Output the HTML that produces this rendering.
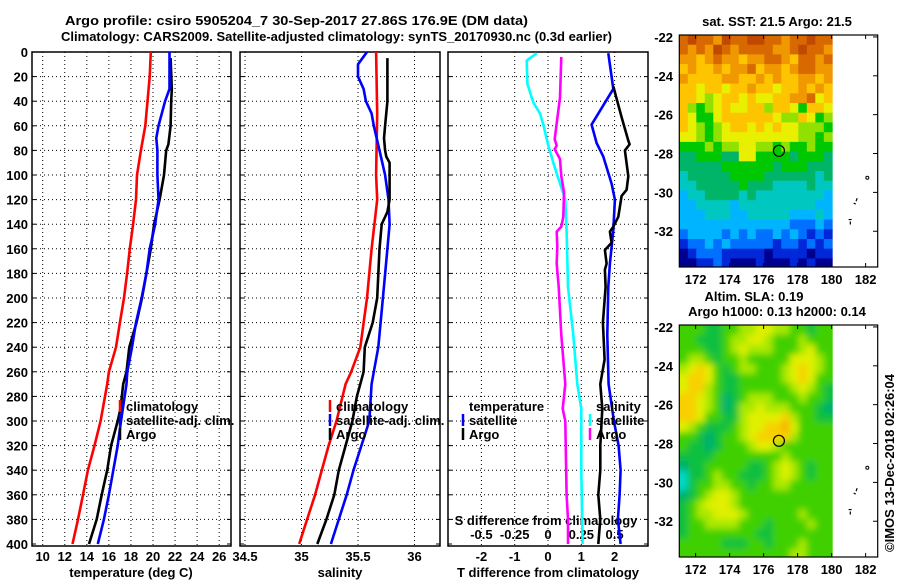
<!DOCTYPE html>
<html><head><meta charset="utf-8"><style>
body{margin:0;background:#fff}
svg{display:block}
text{font-family:"Liberation Sans",sans-serif;font-weight:bold;font-size:13px;fill:#000}
</style></head><body>
<svg id="c" width="900" height="580" viewBox="0 0 900 580">
<defs>
<clipPath id="cm1"><rect x="679.3" y="35" width="153.4" height="232"/></clipPath>
<clipPath id="cm2"><rect x="679.3" y="325" width="153.4" height="232"/></clipPath>
<filter id="bl"><feGaussianBlur stdDeviation="3.5"/></filter>
</defs>
<text x="65" y="25" font-size="14" textLength="463" lengthAdjust="spacingAndGlyphs">Argo profile: csiro 5905204_7 30-Sep-2017 27.86S 176.9E (DM data)</text>
<text x="61" y="41" font-size="14" textLength="551" lengthAdjust="spacingAndGlyphs">Climatology: CARS2009. Satellite-adjusted climatology: synTS_20170930.nc (0.3d earlier)</text>
</svg>
<script>
// ---- profile data ----
const depthTicks=[0,20,40,60,80,100,120,140,160,180,200,220,240,260,280,300,320,340,360,380,400];
const tempTicks=[10,12,14,16,18,20,22,24,26];
const salTicks=[34.5,35,35.5,36];
const salTickLabels=["34.5","35","35.5","36"];
const tdTicks=[-2,-1,0,1,2];
const sdTickLabels=["-0.5","-0.25","0","0.25","0.5"];
const sdTicks=[-0.5,-0.25,0,0.25,0.5];

const tClimDepth=[0,20,40,60,80,100,120,140,160,180,200,220,240,260,270,300,320,340,360,380,400];
const tClimVals=[19.8,19.7,19.5,19.3,18.9,18.55,18.46,18.2,17.9,17.65,17.37,17.0,16.65,16.0,15.85,15.25,14.7,14.1,13.65,13.2,12.7];
const tSatDepth=[0,30,40,50,60,70,80,100,120,140,160,180,200,220,240,260,270,300,320,340,360,380,400];
const tSatVals=[21.5,21.5,21.1,20.8,20.5,20.3,20.4,20.4,20.5,20.2,19.7,19.4,18.97,18.46,18.1,17.67,17.6,17.1,16.8,16.4,16.0,15.55,15.0];
const tArgoDepth=[5,30,40,60,75,80,100,120,140,160,180,200,220,240,260,270,290,300,320,340,360,380,400];
const tArgoVals=[21.6,21.7,21.65,21.6,21.4,21.2,21.0,20.6,20.1,19.8,19.4,19.0,18.5,17.85,17.6,17.3,17.05,16.8,16.2,15.85,15.35,14.9,14.2];

const sClimDepth=[0,50,100,120,160,200,240,260,270,300,320,340,360,380,400];
const sClimVals=[35.66,35.67,35.66,35.67,35.62,35.58,35.52,35.44,35.39,35.31,35.24,35.18,35.12,35.05,34.98];
const sSatDepth=[0,10,20,30,40,50,60,80,100,120,140,160,200,240,260,270,300,320,340,360,380,400];
const sSatVals=[35.58,35.5,35.5,35.55,35.57,35.62,35.64,35.69,35.74,35.77,35.78,35.76,35.72,35.68,35.64,35.62,35.6,35.53,35.46,35.4,35.33,35.26];
const sArgoDepth=[5,40,60,70,80,85,90,120,130,140,160,200,220,240,260,270,280,300,320,340,360,380,400];
const sArgoVals=[35.76,35.76,35.74,35.73,35.74,35.75,35.78,35.78,35.76,35.71,35.69,35.67,35.63,35.56,35.55,35.52,35.49,35.45,35.39,35.33,35.29,35.22,35.14];

const tdSatDepth=[1,30,59,74,85,107,120,145,172,191,230,270,300,320,340,360,380,400];
const tdSatVals=[1.81,1.96,1.31,1.46,1.66,1.91,2.01,1.96,1.86,1.81,1.78,1.82,1.98,2.12,2.18,2.15,2.1,2.18];
const tdArgoDepth=[28,53,72,75,80,101,112,117,134,142,146,155,161,172,177,191,220,250,270,290,320,340,360,380,400];
const tdArgoVals=[1.96,2.21,2.41,2.45,2.31,2.41,2.36,2.21,2.11,1.96,1.86,1.91,1.71,1.76,1.71,1.73,1.65,1.7,1.57,1.63,1.57,1.57,1.51,1.57,1.51];
const sdSatDepth=[1,7,26,41,50,59,75,90,107,120,145,191,230,270,290,340,400];
const sdSatVals=[-0.085,-0.16,-0.155,-0.11,-0.06,-0.035,0,0.04,0.09,0.13,0.14,0.15,0.19,0.22,0.25,0.25,0.26];
const sdArgoDepth=[4,37,58,71,76,79,87,101,114,134,142,146,158,172,191,230,270,290,300,360,380,400];
const sdArgoVals=[0.1,0.09,0.065,0.05,0.065,0.05,0.09,0.1,0.12,0.115,0.1,0.065,0.07,0.065,0.08,0.1,0.13,0.11,0.13,0.14,0.15,0.15];

// ---- map data ----
const mapLonTicks=[172,174,176,178,180,182];
const mapLatTicks=[-22,-24,-26,-28,-30,-32];
const argoLon=176.9, argoLat=-27.86;
const sstTitle="sat. SST: 21.5 Argo: 21.5";
const sstGrid=[
"bcbbacbbccbbabbcbb","babacbabbbbaabcbba","aa9abaa9aabba9bbab","9a99a9aab9aa9abbaa",
"a9999aa99a9a99aa9a","99899899a99899a9a9","9987899898899aab89","976789889979986998",
"986689999998779867","987678998989887776","887678888888887767","666767788776766766",
"556665588666656665","555556666665666555","455555666655555545","445555565554444544",
"344555545444444443","334444344444444433","333444334444433343","333333333333322232",
"233332323223232121","122323222221221212","012221111101111011","001121000100010100"];
const slaGrid=[
"333223344554433233","332223445543334333","333223454443334533","344323343333355543",
"456532344333456543","566532233333456533","566432233333345432","665431234443334332",
"665431244544433321","665332245555643322","543222345566753333","332123345666643333",
"322123334554333333","222233333333433333","122333332234543233","022343322234543233",
"023344332334433333","123455433333333333","234555433333333333","234455543333334333",
"233444433323333433","233333333223333333","333332223323334333","333333333333344333"];
const sstColors={"0":"#000090","1":"#0028d8","2":"#0070ff","3":"#00b4ff","4":"#00c8c0","5":"#00b468","6":"#00c800","7":"#90e000","8":"#e8f000","9":"#ffc400","a":"#f09800","b":"#d86800","c":"#c04800"};
const slaColors={"0":"#00d8c8","1":"#00b070","2":"#10c040","3":"#40d000","4":"#a8e800","5":"#e0f000","6":"#f8d000","7":"#f8b000"};

const NS="http://www.w3.org/2000/svg";
const svg=document.getElementById('c');
function mk(tag,attrs,parent){const e=document.createElementNS(NS,tag);for(const k in attrs)e.setAttribute(k,attrs[k]);(parent||svg).appendChild(e);return e;}
function txt(x,y,s,anchor,parent){const t=mk('text',{x:x,y:y,'text-anchor':anchor||'start'},parent);t.textContent=s;return t;}

const Y0=52,Y1=544;
function yD(d){return Y0+(d/400)*(Y1-Y0);}
const panels=[
 {l:32,r:231,x:v=>42.7+(v-10)*11.03},
 {l:240,r:440,x:v=>245+(v-34.5)*113},
 {l:448,r:648,x:v=>548+v*33.3}
];
const xS=v=>548+v*133.2;

panels.forEach((p,i)=>{
  const g=mk('g',{});
  
  
  depthTicks.forEach(d=>{if(d>0&&d<400){const l=mk('line',{x1:p.l,x2:p.r,y1:yD(d),y2:yD(d),stroke:'#000','stroke-width':1,'stroke-dasharray':'1,3'},g);}
    mk('line',{x1:p.l,x2:p.l+4,y1:yD(d),y2:yD(d),stroke:'#000'},g);mk('line',{x1:p.r-4,x2:p.r,y1:yD(d),y2:yD(d),stroke:'#000'},g);});
  const ticks=i==0?tempTicks:(i==1?salTicks:tdTicks);
  ticks.forEach(v=>{const X=p.x(v);if(X>p.l+2&&X<p.r-2){const l=mk('line',{x1:X,x2:X,y1:Y0,y2:Y1+2,stroke:'#000','stroke-width':1,'stroke-dasharray':'1,3'},g);}});
  const fr=mk('rect',{x:p.l,y:Y0,width:p.r-p.l,height:Y1+2-Y0,fill:'none',stroke:'#000','stroke-width':1.5},g);
  
});
depthTicks.forEach(d=>{const t=txt(28,yD(d)+5,String(d),'end');});
tempTicks.forEach(v=>{const t=txt(panels[0].x(v),561,String(v),'middle');});
salTicks.forEach((v,i)=>{const t=txt(panels[1].x(v),561,salTickLabels[i],'middle');});
tdTicks.forEach(v=>{const t=txt(panels[2].x(v),561,String(v),'middle');});
sdTicks.forEach((v,i)=>{const t=txt(xS(v),539,sdTickLabels[i],'middle');});
let t;
t=txt(131,577,'temperature (deg C)','middle');
t=txt(340,577,'salinity','middle');
t=txt(548,577,'T difference from climatology','middle');
t=txt(546,525,'S difference from climatology','middle');

function series(depths,vals,fx,color,name){
  const pts=depths.map((d,i)=>fx(vals[i]).toFixed(1)+','+yD(d).toFixed(1)).join(' ');
  const pl=mk('polyline',{points:pts,fill:'none',stroke:color,'stroke-width':2.6,'stroke-linejoin':'round'});
  
  
}
series(tClimDepth,tClimVals,panels[0].x,'#ff0000','temp-climatology-line');
series(tArgoDepth,tArgoVals,panels[0].x,'#000000','temp-argo-line');
series(tSatDepth,tSatVals,panels[0].x,'#0000ff','temp-satellite-line');
series(sClimDepth,sClimVals,panels[1].x,'#ff0000','sal-climatology-line');
series(sSatDepth,sSatVals,panels[1].x,'#0000ff','sal-satellite-line');
series(sArgoDepth,sArgoVals,panels[1].x,'#000000','sal-argo-line');
series(sdSatDepth,sdSatVals,xS,'#00ffff','sdiff-satellite-line');
series(sdArgoDepth,sdArgoVals,xS,'#ff00ff','sdiff-argo-line');
series(tdSatDepth,tdSatVals,panels[2].x,'#0000ff','tdiff-satellite-line');
series(tdArgoDepth,tdArgoVals,panels[2].x,'#000000','tdiff-argo-line');

function legItem(x,y,color,label,name){
  const g=mk('g',{});
  
  
  if(color) mk('line',{x1:x,x2:x,y1:y-11,y2:y+1,stroke:color,'stroke-width':2.5},g);
  txt(x+6,y,label,'start',g);
}
legItem(120,411,'#ff0000','climatology','legend-t-climatology');
legItem(120,425,'#0000ff','satellite-adj. clim.','legend-t-satellite');
legItem(120,439,'#000000','Argo','legend-t-argo');
legItem(330,411,'#ff0000','climatology','legend-s-climatology');
legItem(330,425,'#0000ff','satellite-adj. clim.','legend-s-satellite');
legItem(330,439,'#000000','Argo','legend-s-argo');
legItem(463,411,null,'temperature','legend-diff-temperature-heading');
legItem(463,425,'#0000ff','satellite','legend-tdiff-satellite');
legItem(463,439,'#000000','Argo','legend-tdiff-argo');
legItem(590,411,null,'salinity','legend-diff-salinity-heading');
legItem(590,425,'#00ffff','satellite','legend-sdiff-satellite');
legItem(590,439,'#ff00ff','Argo','legend-sdiff-argo');

const LON0=171.04,LAT0=-21.9,PXLON=17.0,PXLAT=19.43;
function drawMap(top,grid,colors,clip,blur,name,titles){
  const mx=lon=>679.3+(lon-LON0)*PXLON;
  const my=lat=>top+(LAT0-lat)*PXLAT;
  const wrap=mk('g',{'clip-path':'url(#'+clip+')'});
  
  
  const g=mk('g',blur?{filter:'url(#bl)'}:{},wrap);
  const cw=0.5*PXLON,ch=0.5*PXLAT;
  grid.forEach((row,r)=>{for(let c=0;c<row.length;c++){
    const x=mx(LON0+c*0.5), y=my(LAT0-r*0.5);
    const cell=mk('rect',{x:(x-(blur&&c==0?8:0)).toFixed(1),y:(y-(blur&&r==0?8:0)).toFixed(1),width:(cw+0.6+(blur&&c==0?8:0)+(blur&&c==row.length-1?8:0)).toFixed(1),height:(ch+0.6+(blur&&r==0?8:0)+(blur&&r==grid.length-1?8:0)).toFixed(1),fill:colors[row[c]]},g);
    
    
  }});
  const fr=mk('rect',{x:679.3,y:top,width:198.4,height:232,fill:'none',stroke:'#000','stroke-width':1.2});
  
  mapLatTicks.forEach(lat=>{const Y=my(lat);mk('line',{x1:873,x2:877.7,y1:Y,y2:Y,stroke:'#000'});
    const l=txt(673,Y+5,String(lat),'end');});
  mapLonTicks.forEach(lon=>{const X=mx(lon);mk('line',{x1:X,x2:X,y1:top,y2:top+4,stroke:'#000'});mk('line',{x1:X,x2:X,y1:top+228,y2:top+232,stroke:'#000'});
    const l=txt(X,top+249,String(lon),'middle');});
  const ci=mk('circle',{cx:mx(argoLon),cy:my(argoLat),r:5.5,fill:'none',stroke:'#000','stroke-width':1.2});
  
  mk('circle',{cx:mx(182.1),cy:my(-29.25),r:1.5,fill:'none',stroke:'#000','stroke-width':1});
  mk('path',{d:`M${mx(181.5)},${my(-30.3)} l-1,3 M${mx(181.3)},${my(-30.55)} l2,1`,stroke:'#000','stroke-width':1.2});
  mk('path',{d:`M${mx(181.0)},${my(-31.4)} l3,0 M${mx(181.1)},${my(-31.5)} l0,3`,stroke:'#000','stroke-width':1.2});
  titles.forEach(([x,y,s],i)=>{const l=txt(x,y,s,'middle');});
}
drawMap(35,sstGrid,sstColors,'cm1',false,'sst-map',[[777,26,sstTitle]]);
drawMap(325,slaGrid,slaColors,'cm2',true,'sla-map',[[754,301,'Altim. SLA: 0.19'],[777,316,'Argo h1000: 0.13 h2000: 0.14']]);
const cp=txt(0,0,'©IMOS 13-Dec-2018 02:26:04','middle');
cp.setAttribute('transform','translate(894,463) rotate(-90)');
cp.setAttribute('font-weight','normal');


</script>
</body></html>
